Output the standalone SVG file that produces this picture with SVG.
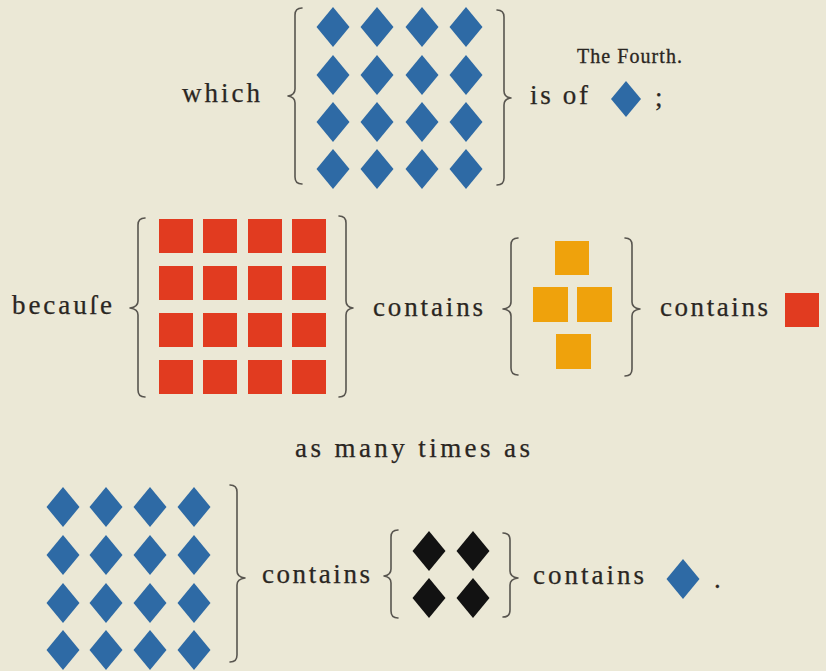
<svg xmlns="http://www.w3.org/2000/svg" xmlns:xlink="http://www.w3.org/1999/xlink" width="826" height="671" viewBox="0 0 826 671">
<style>
.t{font-family:'Liberation Serif','DejaVu Serif',serif;font-size:27px;fill:#2a2622;stroke:#2a2622;stroke-width:0.25}
.h{font-family:'Liberation Serif','DejaVu Serif',serif;font-size:20px;fill:#2a2622;stroke:#2a2622;stroke-width:0.3}
.br{fill:none;stroke:#58554f;stroke-width:1.6;stroke-linecap:round;stroke-linejoin:round}
.bl{fill:#2e6aa5}
.rd{fill:#e13b20}
.or{fill:#efa20c}
.bk{fill:#121212}
</style>
<defs>
<path id="dia" d="M0,-20 L16.5,0 L0,20 L-16.5,0 Z"/>
<path id="dias" d="M0,-18 L15,0 L0,18 L-15,0 Z"/>
</defs>
<rect x="0" y="0" width="826" height="671" fill="#ebe8d6"/>

<g id="header"><text class="h" font-family="Liberation Serif, serif" x="577" y="63" textLength="105" lengthAdjust="spacing">The Fourth.</text></g>

<g id="row1">
<text id="which" class="t" font-family="Liberation Serif, serif" x="182" y="102" textLength="78" lengthAdjust="spacing">which</text>
<g id="blue-grid-top" class="bl">
<use xlink:href="#dia" x="333" y="27"/><use xlink:href="#dia" x="377" y="27"/><use xlink:href="#dia" x="422" y="27"/><use xlink:href="#dia" x="466" y="27"/>
<use xlink:href="#dia" x="333" y="75"/><use xlink:href="#dia" x="377" y="75"/><use xlink:href="#dia" x="422" y="75"/><use xlink:href="#dia" x="466" y="75"/>
<use xlink:href="#dia" x="333" y="122"/><use xlink:href="#dia" x="377" y="122"/><use xlink:href="#dia" x="422" y="122"/><use xlink:href="#dia" x="466" y="122"/>
<use xlink:href="#dia" x="333" y="169"/><use xlink:href="#dia" x="377" y="169"/><use xlink:href="#dia" x="422" y="169"/><use xlink:href="#dia" x="466" y="169"/>
</g>
<text id="is-of" class="t" font-family="Liberation Serif, serif" x="530" y="104" textLength="58" lengthAdjust="spacing">is of</text>
<g id="blue-single-top" class="bl"><use xlink:href="#dias" x="626" y="99"/></g>
<text id="semicolon" class="t" font-family="Liberation Serif, serif" x="655" y="106">;</text>
</g>

<g id="row2">
<text id="because" class="t" font-family="Liberation Serif, serif" x="12" y="314" textLength="100" lengthAdjust="spacing">becauſe</text>
<g id="red-grid" class="rd">
<rect x="159" y="219" width="34" height="34"/><rect x="203" y="219" width="34" height="34"/><rect x="248" y="219" width="34" height="34"/><rect x="292" y="219" width="34" height="34"/>
<rect x="159" y="266" width="34" height="34"/><rect x="203" y="266" width="34" height="34"/><rect x="248" y="266" width="34" height="34"/><rect x="292" y="266" width="34" height="34"/>
<rect x="159" y="313" width="34" height="34"/><rect x="203" y="313" width="34" height="34"/><rect x="248" y="313" width="34" height="34"/><rect x="292" y="313" width="34" height="34"/>
<rect x="159" y="360" width="34" height="34"/><rect x="203" y="360" width="34" height="34"/><rect x="248" y="360" width="34" height="34"/><rect x="292" y="360" width="34" height="34"/>
</g>
<text id="contains1" class="t" font-family="Liberation Serif, serif" x="373" y="316" textLength="110" lengthAdjust="spacing">contains</text>
<g id="orange-cross" class="or">
<rect x="555" y="241" width="34" height="34"/>
<rect x="533" y="287" width="35" height="35"/><rect x="577" y="287" width="35" height="35"/>
<rect x="556" y="334" width="35" height="35"/>
</g>
<text id="contains2" class="t" font-family="Liberation Serif, serif" x="660" y="316" textLength="108" lengthAdjust="spacing">contains</text>
<g id="red-single" class="rd"><rect x="785" y="293" width="34" height="34"/></g>
</g>

<g id="row3"><text id="as-many" class="t" font-family="Liberation Serif, serif" x="295" y="457" textLength="235" lengthAdjust="spacing">as many times as</text></g>

<g id="row4">
<g id="blue-grid-bottom" class="bl">
<use xlink:href="#dia" x="63" y="507"/><use xlink:href="#dia" x="106" y="507"/><use xlink:href="#dia" x="150" y="507"/><use xlink:href="#dia" x="194" y="507"/>
<use xlink:href="#dia" x="63" y="555"/><use xlink:href="#dia" x="106" y="555"/><use xlink:href="#dia" x="150" y="555"/><use xlink:href="#dia" x="194" y="555"/>
<use xlink:href="#dia" x="63" y="603"/><use xlink:href="#dia" x="106" y="603"/><use xlink:href="#dia" x="150" y="603"/><use xlink:href="#dia" x="194" y="603"/>
<use xlink:href="#dia" x="63" y="650"/><use xlink:href="#dia" x="106" y="650"/><use xlink:href="#dia" x="150" y="650"/><use xlink:href="#dia" x="194" y="650"/>
</g>
<text id="contains3" class="t" font-family="Liberation Serif, serif" x="262" y="583" textLength="108" lengthAdjust="spacing">contains</text>
<g id="black-grid" class="bk">
<use xlink:href="#dia" x="429" y="551"/><use xlink:href="#dia" x="473" y="551"/>
<use xlink:href="#dia" x="429" y="598"/><use xlink:href="#dia" x="473" y="598"/>
</g>
<text id="contains4" class="t" font-family="Liberation Serif, serif" x="533" y="584" textLength="111" lengthAdjust="spacing">contains</text>
<g id="blue-single-bottom" class="bl"><use xlink:href="#dia" x="683" y="579"/></g>
<text id="period" class="t" font-family="Liberation Serif, serif" x="714" y="588">.</text>
</g>

<g id="braces" class="br">
<path d="M302,8 Q295,8 295,15 L295,89 Q295,95 288,96 Q295,97 295,103 L295,177 Q295,184 302,184"/>
<path d="M497,10 Q504,10 504,17 L504,91 Q504,97 511,98 Q504,99 504,105 L504,178 Q504,185 497,185"/>
<path d="M145,218 Q138,218 138,225 L138,301 Q138,307 130,308 Q138,309 138,315 L138,390 Q138,397 145,397"/>
<path d="M339,216 Q346,216 346,223 L346,301 Q346,307 353,308 Q346,309 346,315 L346,390 Q346,397 339,397"/>
<path d="M518,238 Q511,238 511,245 L511,302 Q511,308 503,309 Q511,310 511,316 L511,368 Q511,375 518,375"/>
<path d="M625,238 Q632,238 632,245 L632,302 Q632,308 640,309 Q632,310 632,316 L632,369 Q632,376 625,376"/>
<path d="M230,485 Q237,485 237,492 L237,571 Q237,577 245,578 Q237,579 237,585 L237,655 Q237,662 230,662"/>
<path d="M398,530 Q391,530 391,537 L391,569 Q391,575 384,576 Q391,577 391,583 L391,611 Q391,618 398,618"/>
<path d="M503,533 Q510,533 510,540 L510,571 Q510,577 518,578 Q510,579 510,585 L510,610 Q510,617 503,617"/>
</g>
</svg>
